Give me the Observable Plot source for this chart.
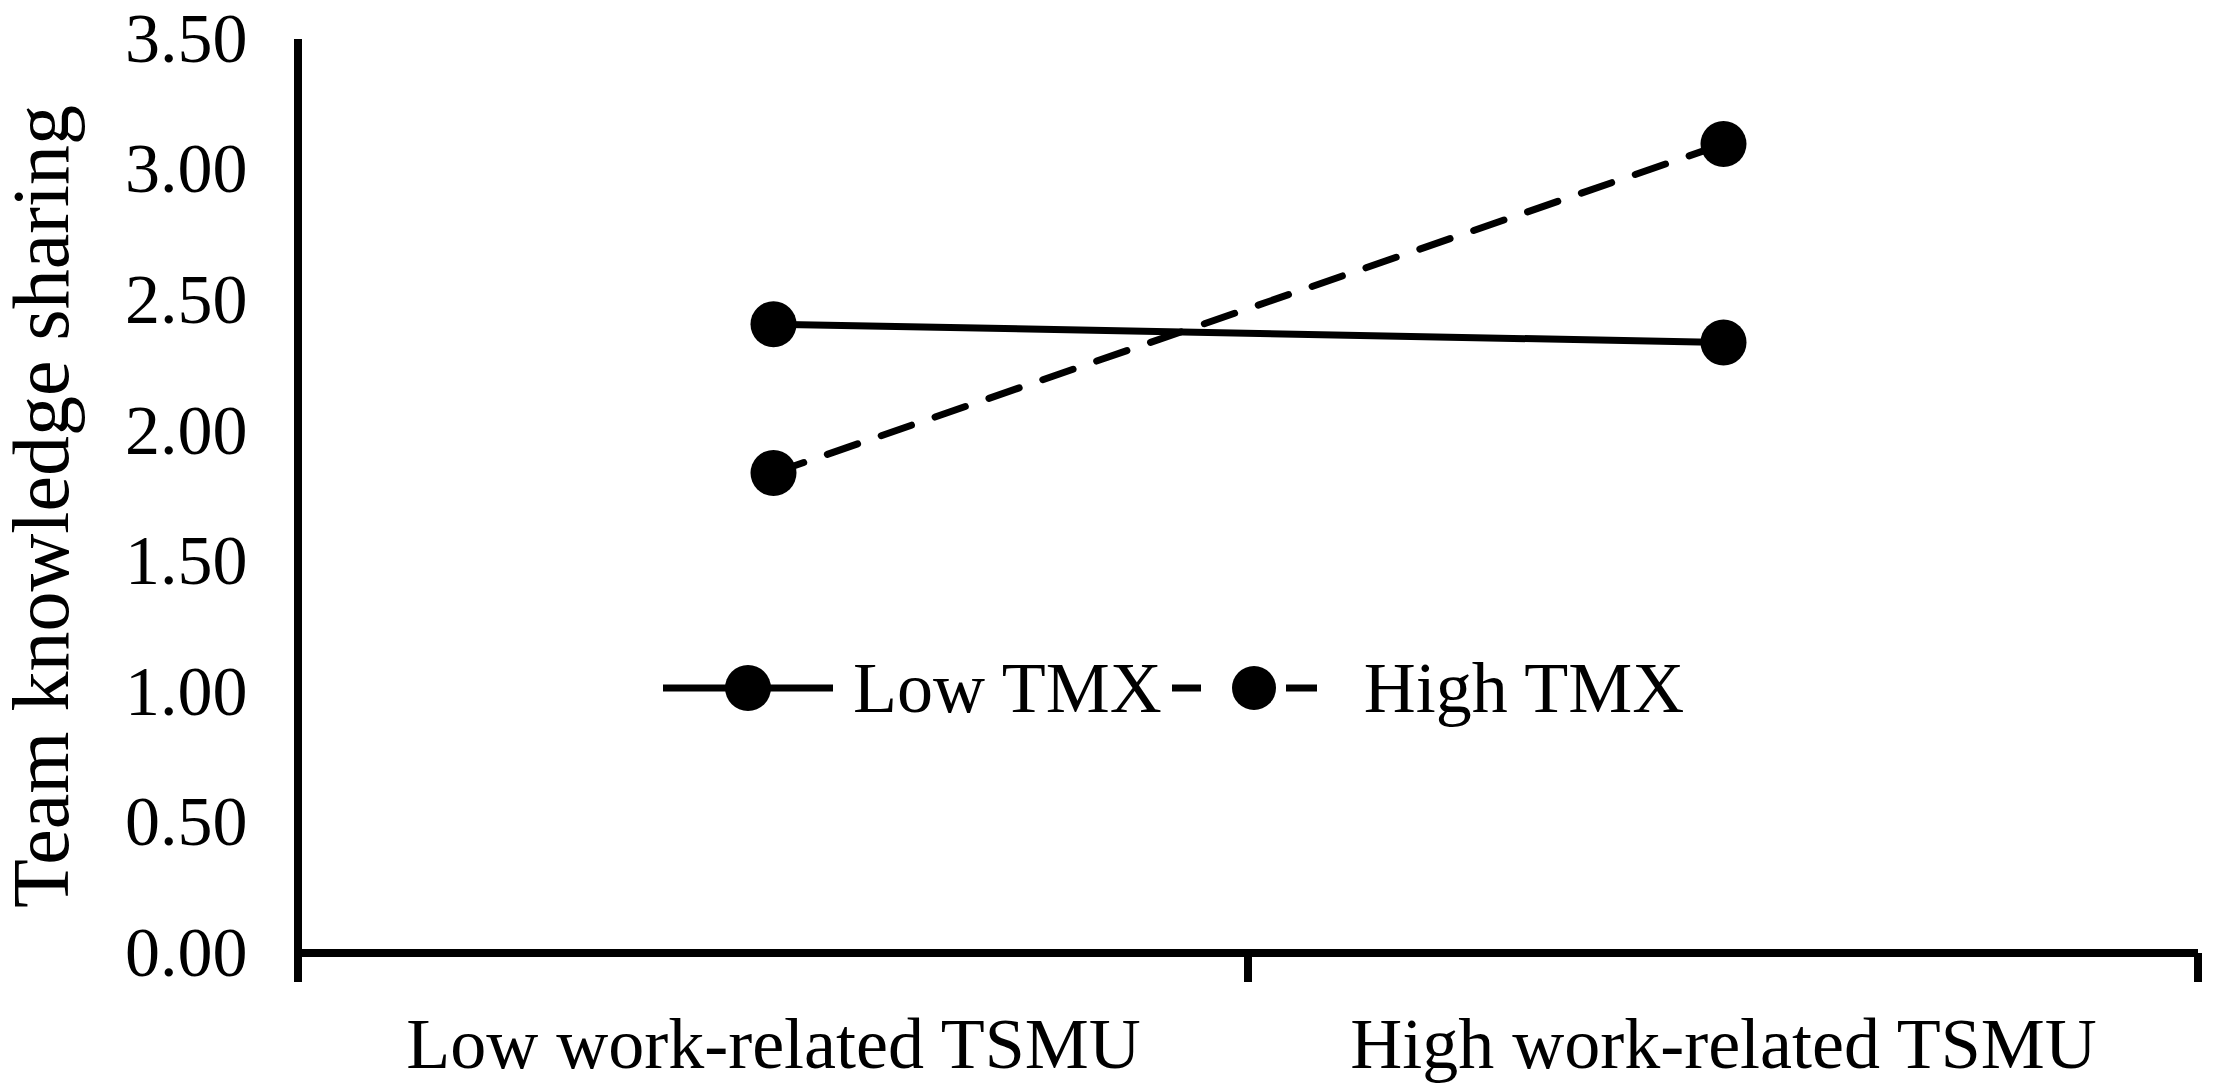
<!DOCTYPE html>
<html><head><meta charset="utf-8">
<script src="https://cdn.jsdelivr.net/npm/d3@7"></script>
<script src="https://cdn.jsdelivr.net/npm/@observablehq/plot@0.6"></script>
<style>
html,body{margin:0;padding:0;background:#fff;}
#wrap{position:relative;width:2217px;height:1090px;font-family:"Liberation Serif","Times New Roman",serif;color:#000;}
#legend{position:absolute;left:663px;top:652px;display:flex;align-items:center;font-size:72px;line-height:72px;white-space:nowrap;}
#legend svg{display:block;}
</style></head><body><div id="wrap"><div id="legend"></div></div>
<script>
const categories = ["Low work-related TSMU", "High work-related TSMU"];
const seriesNames = ["Low TMX", "High TMX"];
const lowTMX = [2.41, 2.34];
const highTMX = [1.84, 3.10];
const yTicks = [0, 0.5, 1, 1.5, 2, 2.5, 3, 3.5];
const yLabel = "Team knowledge sharing";

const data = [
  ...categories.map((c, i) => ({x: c, y: lowTMX[i], s: seriesNames[0]})),
  ...categories.map((c, i) => ({x: c, y: highTMX[i], s: seriesNames[1]}))
];

const axesMark = (index, scales, values, dims) => {
  const {width, marginLeft, marginRight} = dims;
  const y0 = scales.y(yTicks[0]);
  const yTop = scales.y(yTicks[yTicks.length - 1]);
  const right = width - marginRight;
  const n = categories.length;
  const g = d3.create("svg:g").attr("stroke", "#000").attr("stroke-width", 8).attr("fill", "none");
  g.append("line").attr("x1", marginLeft).attr("x2", marginLeft).attr("y1", yTop).attr("y2", y0 + 29);
  g.append("line").attr("x1", marginLeft).attr("x2", right).attr("y1", y0).attr("y2", y0);
  for (let i = 1; i <= n; i++) {
    const x = marginLeft + i * (right - marginLeft) / n;
    g.append("line").attr("x1", x).attr("x2", x).attr("y1", y0).attr("y2", y0 + 29);
  }
  return g.node();
};

const chart = Plot.plot({
  width: 2217, height: 1090,
  marginLeft: 298, marginRight: 19, marginTop: 39, marginBottom: 137,
  style: {fontFamily: "Liberation Serif, 'Times New Roman', serif", fontSize: "70px", color: "#000", background: "#fff", overflow: "visible"},
  x: {type: "point", domain: categories, padding: 0.5, label: null},
  y: {domain: [0, 3.5], label: null},
  marks: [
    Plot.axisY({ticks: yTicks, tickFormat: d => d.toFixed(2), tickSize: 0, tickPadding: 51, fontSize: 70, label: null}),
    Plot.axisX({tickSize: 0, tickPadding: 63, fontSize: 72, label: null}),
    Plot.text([yLabel], {frameAnchor: "left", text: d => d, rotate: -90, dx: -231, dy: 10, lineAnchor: "bottom", textAnchor: "middle", fontSize: 80, fill: "#000"}),
    axesMark,
    Plot.line(data.filter(d => d.s === seriesNames[0]), {x: "x", y: "y", stroke: "#000", strokeWidth: 7}),
    Plot.line(data.filter(d => d.s === seriesNames[1]), {x: "x", y: "y", stroke: "#000", strokeWidth: 7, strokeDasharray: "32,25"}),
    Plot.dot(data, {x: "x", y: "y", r: 23, fill: "#000", stroke: "none"})
  ]
});
document.getElementById("wrap").prepend(chart);

// Legend (HTML overlay inside the plot area)
const legend = d3.select("#legend");
const sw1 = legend.append("svg").attr("width", 170).attr("height", 50);
sw1.append("line").attr("x1", 0).attr("x2", 170).attr("y1", 25).attr("y2", 25).attr("stroke", "#000").attr("stroke-width", 7);
sw1.append("circle").attr("cx", 85).attr("cy", 25).attr("r", 23).attr("fill", "#000");
legend.append("span").style("margin-left", "20px").text(seriesNames[0]);
const sw2 = legend.append("svg").attr("width", 145).attr("height", 50).style("margin-left", "10px");
sw2.append("line").attr("x1", 0).attr("x2", 29).attr("y1", 25).attr("y2", 25).attr("stroke", "#000").attr("stroke-width", 7);
sw2.append("line").attr("x1", 114).attr("x2", 145).attr("y1", 25).attr("y2", 25).attr("stroke", "#000").attr("stroke-width", 7);
sw2.append("circle").attr("cx", 82).attr("cy", 25).attr("r", 22).attr("fill", "#000");
legend.append("span").style("margin-left", "47px").text(seriesNames[1]);
</script>
</body></html>
